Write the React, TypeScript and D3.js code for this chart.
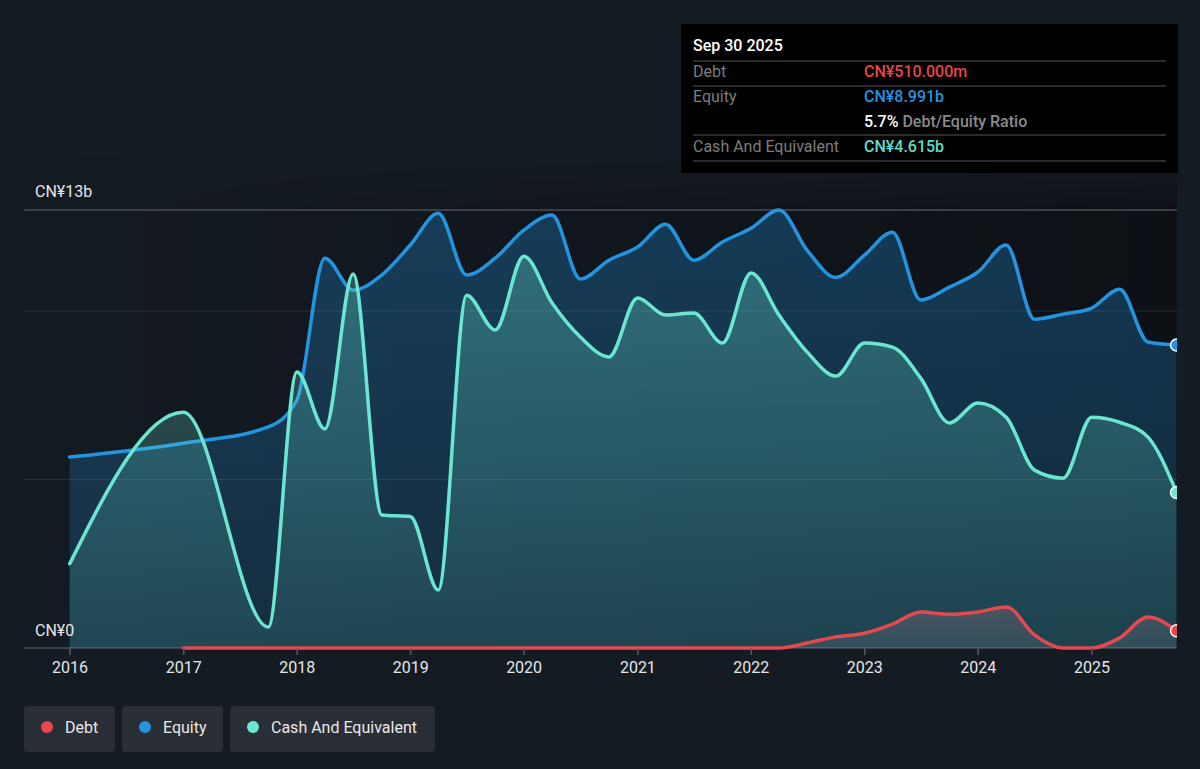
import React from 'react';
import * as d3 from 'd3';

// Quarter-end reporting dates (annual before 2017)
const dates = [
    '2015-12-31', '2016-12-31', '2017-09-30', '2017-12-31',
    '2018-03-31', '2018-06-30', '2018-09-30', '2018-12-31',
    '2019-03-31', '2019-06-30', '2019-09-30', '2019-12-31',
    '2020-03-31', '2020-06-30', '2020-09-30', '2020-12-31',
    '2021-03-31', '2021-06-30', '2021-09-30', '2021-12-31',
    '2022-03-31', '2022-06-30', '2022-09-30', '2022-12-31',
    '2023-03-31', '2023-06-30', '2023-09-30', '2023-12-31',
    '2024-03-31', '2024-06-30', '2024-09-30', '2024-12-31',
    '2025-03-31', '2025-06-30', '2025-09-30',
];

// CN¥ billions
const equity = [
    5.67, 6.08, 6.56, 7.36,
    11.57, 10.62, 11.07, 11.96,
    12.9, 11.07, 11.57, 12.4,
    12.85, 10.95, 11.51, 11.9,
    12.58, 11.51, 12.05, 12.46,
    13.0, 11.8, 11.0, 11.66,
    12.34, 10.33, 10.71, 11.16,
    11.96, 9.76, 9.91, 10.09,
    10.65, 9.08, 8.991,
];

const cash = [
    2.5, 7.0, 0.62, 8.19,
    6.5, 11.1, 3.95, 3.9,
    1.72, 10.47, 9.44, 11.63,
    10.24, 9.23, 8.64, 10.39,
    9.88, 9.94, 9.05, 11.13,
    9.88, 8.78, 8.07, 9.05,
    8.93, 8.01, 6.68, 7.27,
    6.85, 5.28, 5.04, 6.85,
    6.7, 6.26, 4.615,
];

const debt: (number | null)[] = [
    null, 0, 0, 0,
    0, 0, 0, 0,
    0, 0, 0, 0,
    0, 0, 0, 0,
    0, 0, 0, 0,
    0, 0.15, 0.33, 0.44,
    0.71, 1.07, 1.0, 1.07,
    1.22, 0.39, 0, 0,
    0.3, 0.92, 0.51,
];

const xTicks = ['2016', '2017', '2018', '2019', '2020', '2021', '2022', '2023', '2024', '2025'];
const yGrid = [5, 10];

const legendItems = [
    { label: 'Debt', color: '#e5484d' },
    { label: 'Equity', color: '#2394df' },
    { label: 'Cash And Equivalent', color: '#6ce5d1' },
];

const WIDTH = 1200;
const HEIGHT = 769;
const BG = '#151b23';
const FONT = 'Roboto, "Open Sans", sans-serif';

export default function App() {
    const parse = d3.timeParse('%Y-%m-%d');
    const points = dates.map(d => parse(d) as Date);

    const x = d3.scaleTime()
        .domain([new Date(2016, 0, 1), new Date(2025, 0, 1)])
        .range([70, 1092]);
    const y = d3.scaleLinear().domain([0, 13]).range([648, 210]);

    const plotLeft = 24;
    const plotRight = 1177;

    const mkArea = (vals: (number | null)[]) => d3.area<number>()
        .defined(i => vals[i] !== null)
        .x(i => x(points[i]))
        .y0(y(0))
        .y1(i => y(vals[i] as number))
        .curve(d3.curveMonotoneX)(d3.range(vals.length)) || '';

    const mkLine = (vals: (number | null)[]) => d3.line<number>()
        .defined(i => vals[i] !== null)
        .x(i => x(points[i]))
        .y(i => y(vals[i] as number))
        .curve(d3.curveMonotoneX)(d3.range(vals.length)) || '';

    const last = points.length - 1;
    const series = [
        { vals: equity, color: '#2394df', fill: 'url(#eqFill)' },
        { vals: cash, color: '#6ce5d1', fill: 'url(#cashFill)' },
        { vals: debt, color: '#e5484d', fill: 'url(#debtFill)' },
    ];

    // legend pill widths
    const pillW = [91, 101, 205];
    let px = 24;
    const pills = legendItems.map((it, i) => {
        const p = { ...it, x: px, w: pillW[i] };
        px += pillW[i] + 7;
        return p;
    });

    const rows = [
        { label: 'Debt', value: 'CN¥510.000m', color: '#e84545', y: 77 },
        { label: 'Equity', value: 'CN¥8.991b', color: '#2394df', y: 102 },
        { label: 'Cash And Equivalent', value: 'CN¥4.615b', color: '#5fdcc8', y: 152 },
    ];

    return (
        <svg width={WIDTH} height={HEIGHT} style={{ position: 'absolute', left: 0, top: 0, display: 'block' }}
            fontFamily={FONT}>
            <defs>
                <linearGradient id="plotShade" x1="0" x2="1" y1="0" y2="0">
                    <stop offset="0" stopColor="#000" stopOpacity={0} />
                    <stop offset="1" stopColor="#000" stopOpacity={0.35} />
                </linearGradient>
                <linearGradient id="shadeFade" gradientUnits="userSpaceOnUse" x1={0} y1={150} x2={0} y2={215}>
                    <stop offset="0" stopColor="#fff" stopOpacity={0} />
                    <stop offset="1" stopColor="#fff" stopOpacity={1} />
                </linearGradient>
                <mask id="shadeMask">
                    <rect x={0} y={0} width={WIDTH} height={HEIGHT} fill="url(#shadeFade)" />
                </mask>
                <linearGradient id="eqFill" gradientUnits="userSpaceOnUse" x1={0} y1={210} x2={0} y2={648}>
                    <stop offset="0" stopColor="#2394df" stopOpacity={0.3} />
                    <stop offset="1" stopColor="#2394df" stopOpacity={0.17} />
                </linearGradient>
                <linearGradient id="cashFill" gradientUnits="userSpaceOnUse" x1={0} y1={250} x2={0} y2={648}>
                    <stop offset="0" stopColor="#6ce5d1" stopOpacity={0.3} />
                    <stop offset="1" stopColor="#6ce5d1" stopOpacity={0.13} />
                </linearGradient>
                <linearGradient id="debtFill" gradientUnits="userSpaceOnUse" x1={0} y1={600} x2={0} y2={648}>
                    <stop offset="0" stopColor="#d07080" stopOpacity={0.28} />
                    <stop offset="1" stopColor="#b0a0b0" stopOpacity={0.12} />
                </linearGradient>
                <clipPath id="plotClip">
                    <rect x={plotLeft} y={0} width={plotRight - plotLeft} height={660} />
                </clipPath>
            </defs>

            <rect width={WIDTH} height={HEIGHT} fill={BG} />
            <rect x={plotLeft} y={150} width={plotRight - plotLeft} height={498} fill="url(#plotShade)"
                mask="url(#shadeMask)" />

            {/* grid */}
            <line x1={plotLeft} x2={plotRight} y1={y(13)} y2={y(13)} stroke="#4a4d55" strokeWidth={1.5} />
            {yGrid.map(v => (
                <line key={v} x1={plotLeft} x2={plotRight} y1={y(v)} y2={y(v)} stroke="#ffffff" strokeOpacity={0.1} />
            ))}
            <line x1={plotLeft} x2={plotRight} y1={y(0)} y2={y(0)} stroke="#4a4d55" strokeWidth={1.5} />

            <g clipPath="url(#plotClip)">
                {series.map((s, i) => (
                    <g key={i}>
                        <path d={mkArea(s.vals)} fill={s.fill} />
                        <path d={mkLine(s.vals)} fill="none" stroke={s.color} strokeWidth={3.5}
                            strokeLinejoin="round" strokeLinecap="round" />
                    </g>
                ))}
                {series.map((s, i) => (
                    <circle key={i} cx={x(points[last])} cy={y(s.vals[last] as number)} r={6}
                        fill={s.color} stroke="#fff" strokeWidth={1.5} />
                ))}
            </g>

            {/* axis labels */}
            <text x={35} y={197} fill="#e6e6e6" fontSize={16}>CN¥13b</text>
            <text x={35} y={636} fill="#e6e6e6" fontSize={16}>CN¥0</text>
            {xTicks.map(t => {
                const tx = x(new Date(+t, 0, 1));
                return (
                    <g key={t}>
                        <line x1={tx} x2={tx} y1={648} y2={655} stroke="#555a62" strokeWidth={1.5} />
                        <text x={tx} y={673} fill="#e6e6e6" fontSize={16} textAnchor="middle">{t}</text>
                    </g>
                );
            })}

            {/* tooltip */}
            <rect x={681} y={24} width={497} height={149} fill="#000" />
            <text x={693} y={51} fill="#fff" fontSize={16} fontWeight={500}>Sep 30 2025</text>
            {[61, 86, 135, 161].map(ly => (
                <line key={ly} x1={693} x2={1166} y1={ly} y2={ly} stroke="#3a3a3a" strokeWidth={1.5} />
            ))}
            {rows.map(r => (
                <g key={r.label}>
                    <text x={693} y={r.y} fill="#7d7d7d" fontSize={16}>{r.label}</text>
                    <text x={864} y={r.y} fill={r.color} fontSize={16} fontWeight={500}>{r.value}</text>
                </g>
            ))}
            <text x={864} y={127} fontSize={16} fontWeight={500}>
                <tspan fill="#fff">5.7%</tspan>
                <tspan fill="#8a8a8a"> Debt/Equity Ratio</tspan>
            </text>

            {/* legend */}
            {pills.map(p => (
                <g key={p.label}>
                    <rect x={p.x} y={706} width={p.w} height={46} rx={4} fill="#2a2e36" />
                    <circle cx={p.x + 23} cy={727} r={6} fill={p.color} />
                    <text x={p.x + 41} y={733} fill="#e8e8e8" fontSize={16}>{p.label}</text>
                </g>
            ))}
        </svg>
    );
}
